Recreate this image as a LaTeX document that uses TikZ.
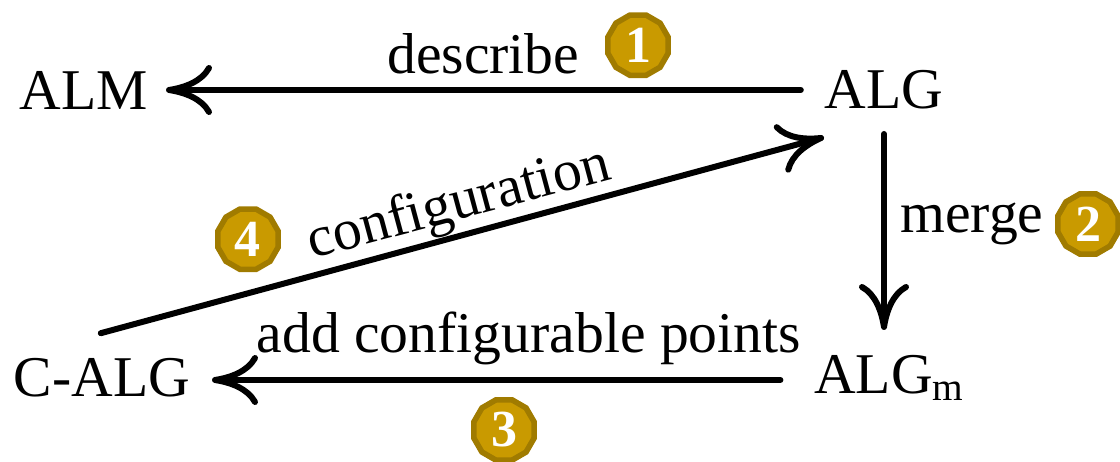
\documentclass[tikz,border=0pt]{standalone}
\usepackage{fontspec}
\setmainfont{Liberation Serif}
\usetikzlibrary{arrows.meta, shapes.geometric}

\tikzset{
    term/.style={font=\fontsize{41}{46}\selectfont, inner sep=0pt, outer sep=0pt},
    edgelabel/.style={font=\fontsize{41}{46}\selectfont, inner sep=0pt, outer sep=0pt},
    badge/.style={regular polygon, regular polygon sides=12, minimum size=1.56cm, inner sep=0pt,
        draw=badgeedge, line width=0.14cm, fill=badgefill, text=white,
        font=\fontsize{37}{40}\selectfont\bfseries},
    link/.style={->, line width=0.15cm, line cap=round,
        >={Computer Modern Rightarrow[length=1.15cm, width=1.25cm, line width=0.15cm]}}
}
\definecolor{badgefill}{HTML}{C99A00}
\definecolor{badgeedge}{HTML}{A07B00}

\begin{document}
\begin{tikzpicture}[node distance=20cm]
    \useasboundingbox (0,0) rectangle (28,11.55);

    \node [term] (alm) at (2.1,9.3) {ALM};
    \node [term, right of=alm] (alg) {ALG};
    \node [term, below of=alg, node distance=7.2cm, xshift=0.13cm] (algm) {ALG\textsubscript{\fontsize{28}{28}\selectfont m}};
    \node [term, left of=algm, node distance=19.68cm] (calg) {C-ALG};

    \coordinate [right of=alm, node distance=2.05cm] (almin);
    \coordinate [left of=alg, node distance=2.08cm] (algleft);
    \coordinate [below of=alg, node distance=1.1cm] (algout);
    \coordinate [above of=algm, node distance=1.2cm, xshift=-0.13cm] (algmin);
    \coordinate [left of=algm, node distance=2.72cm, yshift=-0.05cm] (algmleft);
    \coordinate [right of=calg, node distance=2.75cm, yshift=-0.05cm] (calgin);
    \coordinate (calgout) at (2.52,3.22);
    \coordinate (algin) at (20.6,8.12);

    \draw [link] (algleft) -- (almin);
    \draw [link] (algout) -- (algmin);
    \draw [link] (algmleft) -- (calgin);
    \draw [link] (calgout) -- (algin);

    \node [edgelabel] (describe) at (12.08,10.2) {describe};
    \node [edgelabel] (merge) at (24.3,5.95) {merge};
    \node [edgelabel] (addpoints) at (13.22,3.1) {add configurable points};
    \node [edgelabel, rotate=15] (configuration) at (11.48,6.42) {configuration};

    \node [badge] (one) at (15.95,10.42) {1};
    \node [badge] (two) at (27.2,5.95) {2};
    \node [badge] (three) at (12.6,0.8) {3};
    \node [badge] (four) at (6.2,5.57) {4};
\end{tikzpicture}
\end{document}
